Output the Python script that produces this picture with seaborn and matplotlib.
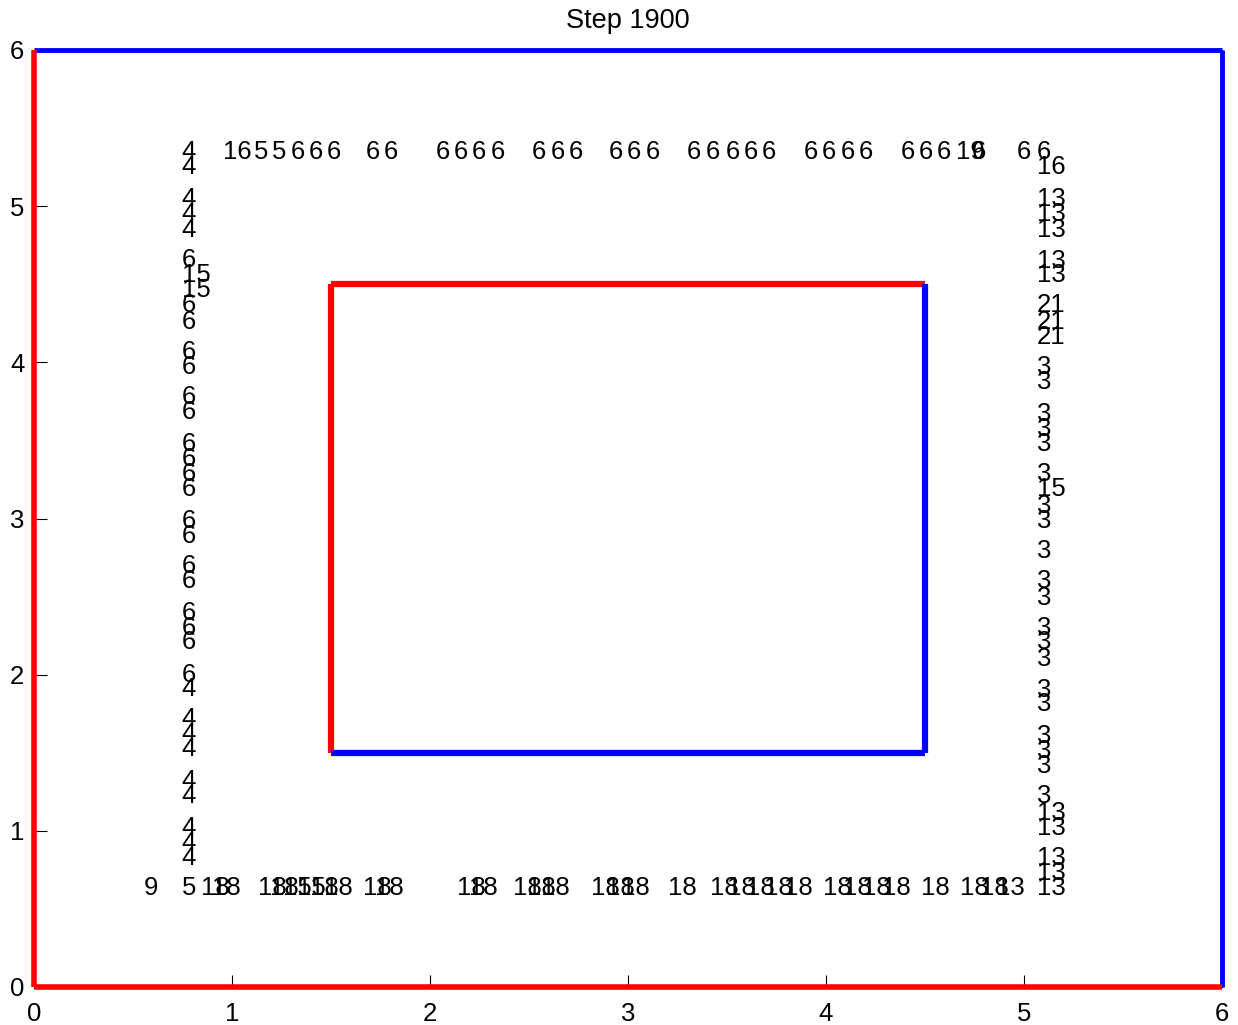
import numpy as np
import pandas as pd
import seaborn as sns
import matplotlib.pyplot as plt

title = "Step 1900"

# track walls (outer box and inner box)
wall_id = ["T", "T", "R", "R", "L", "L", "B", "B",
           "iL", "iL", "iT", "iT", "iB", "iB", "iR", "iR"]
wall_x = [0, 6, 6, 6, 0, 0, 0, 6,
          1.5, 1.5, 1.5, 4.5, 1.5, 4.5, 4.5, 4.5]
wall_y = [6, 6, 6, 0, 0, 6, 0, 0,
          1.5, 4.5, 4.5, 4.5, 1.5, 1.5, 4.5, 1.5]
wall_colors = {"L": "red", "B": "red", "T": "blue", "R": "blue",
               "iL": "red", "iT": "red", "iB": "blue", "iR": "blue"}
wall_widths = {"L": 4, "B": 4, "T": 3.5, "R": 3.5,
               "iL": 4.5, "iT": 4.5, "iB": 4.5, "iR": 4.5}

# labels along the top lane (y fixed)
top_y = 5.36
top_labels = ["16", "5", "5", "6", "6", "6", "6", "6", "6", "6", "6", "6",
              "6", "6", "6", "6", "6", "6", "6", "6", "6", "6", "6", "6",
              "6", "6", "6", "6", "6", "6", "19", "6", "6"]
top_x = [0.953, 1.111, 1.202, 1.298, 1.389, 1.480, 1.677, 1.768, 2.030,
         2.121, 2.212, 2.308, 2.515, 2.611, 2.702, 2.904, 2.995, 3.091,
         3.298, 3.394, 3.495, 3.586, 3.677, 3.889, 3.980, 4.076, 4.167,
         4.379, 4.470, 4.561, 4.657, 4.737, 4.965]

# left lane (x fixed)
left_x = 0.745
left_labels = ["4", "4", "4", "4", "4", "6", "15", "15", "6", "6", "6", "6",
               "6", "6", "6", "6", "6", "6", "6", "6", "6", "6", "6", "6",
               "6", "6", "4", "4", "4", "4", "4", "4", "4", "4", "4", "5"]
left_y = [5.360, 5.264, 5.065, 4.969, 4.866, 4.674, 4.578, 4.476, 4.380,
          4.277, 4.085, 3.989, 3.791, 3.695, 3.496, 3.400, 3.304, 3.208,
          3.003, 2.907, 2.709, 2.613, 2.414, 2.318, 2.222, 2.017, 1.927,
          1.729, 1.633, 1.537, 1.332, 1.236, 1.037, 0.941, 0.845, 0.647]

# right lane (x fixed)
right_x = 5.065
right_labels = ["6", "16", "13", "13", "13", "13", "13", "21", "21", "21",
                "3", "3", "3", "3", "3", "3", "15", "3", "3", "3", "3", "3",
                "3", "3", "3", "3", "3", "3", "3", "3", "3", "13", "13",
                "13", "13", "13"]
right_y = [5.360, 5.264, 5.065, 4.969, 4.866, 4.668, 4.578, 4.380, 4.277,
           4.181, 3.983, 3.887, 3.688, 3.592, 3.496, 3.298, 3.202, 3.099,
           3.003, 2.805, 2.613, 2.510, 2.318, 2.222, 2.119, 1.921, 1.825,
           1.626, 1.530, 1.434, 1.236, 1.133, 1.037, 0.839, 0.743, 0.647]

# bottom lane (y fixed)
bottom_y = 0.647
bottom_labels = ["9", "18", "18", "18", "18", "15", "15", "18", "18", "18",
                 "18", "18", "18", "18", "18", "18", "18", "18", "18", "18",
                 "18", "18", "18", "18", "18", "18", "18", "18", "18", "18",
                 "18", "18", "13"]
bottom_x = [0.556, 0.842, 0.901, 1.131, 1.192, 1.258, 1.328, 1.394, 1.465,
            1.662, 1.720, 2.136, 2.197, 2.419, 2.490, 2.561, 2.813, 2.889,
            2.965, 3.202, 3.414, 3.500, 3.596, 3.687, 3.788, 3.985, 4.086,
            4.182, 4.283, 4.480, 4.677, 4.778, 4.859]

sns.set_theme(style="ticks")
plt.rcParams["font.family"] = ["Liberation Sans", "DejaVu Sans"]
plt.rcParams["text.color"] = "black"
plt.rcParams["xtick.color"] = "black"
plt.rcParams["ytick.color"] = "black"

fig = plt.figure(figsize=(12.38, 10.25), dpi=100)
ax = fig.add_axes([34 / 1238, 38 / 1025, 1188 / 1238, 937 / 1025])

walls = pd.DataFrame({"wall": wall_id, "x": wall_x, "y": wall_y})
order = ["T", "R", "L", "B", "iL", "iT", "iB", "iR"]
sns.lineplot(data=walls, x="x", y="y", hue="wall", palette=wall_colors,
             hue_order=order, size="wall", sizes=wall_widths, size_order=order,
             estimator=None, sort=False, legend=False,
             ax=ax, clip_on=False, solid_capstyle="butt", zorder=3)

fs = 18.5
for s, x in zip(top_labels, top_x):
    ax.text(x, top_y, s, ha="left", va="center_baseline", fontsize=fs)
for s, y in zip(left_labels, left_y):
    ax.text(left_x, y, s, ha="left", va="center_baseline", fontsize=fs)
for s, y in zip(right_labels, right_y):
    ax.text(right_x, y, s, ha="left", va="center_baseline", fontsize=fs)
for s, x in zip(bottom_labels, bottom_x):
    ax.text(x, bottom_y, s, ha="left", va="center_baseline", fontsize=fs)

ax.set_xlim(0, 6)
ax.set_ylim(0, 6)
ax.set_xticks(range(7))
ax.set_yticks(range(7))
ax.set_xlabel("")
ax.set_ylabel("")
ax.tick_params(direction="in", length=9, width=0.8, top=False, right=False,
               labelsize=fs, colors="black")
ax.tick_params(axis="x", pad=11)
ax.tick_params(axis="y", pad=7)
for sp in ax.spines.values():
    sp.set_color("black")
    sp.set_linewidth(0.8)
ax.set_title(title, fontsize=19.5, pad=16)

fig.savefig("out.png", dpi=100)
